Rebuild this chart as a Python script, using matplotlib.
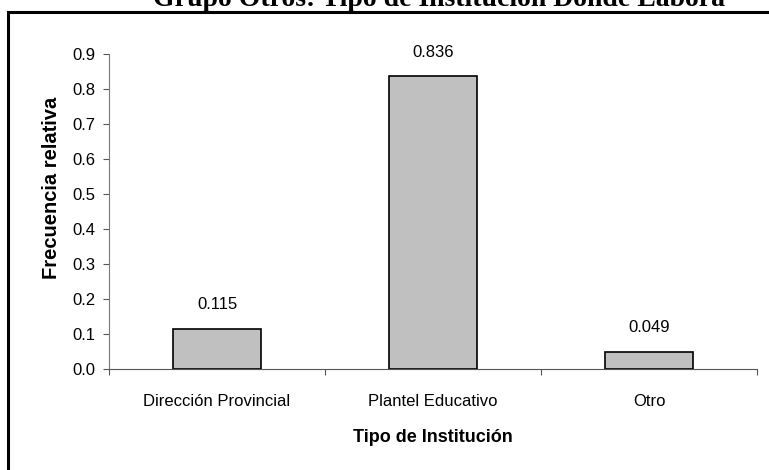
import matplotlib.pyplot as plt
from matplotlib.patches import Rectangle

categories = ["Dirección Provincial", "Plantel Educativo", "Otro"]
freq = [0.115, 0.836, 0.049]
value_labels = ["0.115", "0.836", "0.049"]
yticks = [0.0, 0.1, 0.2, 0.3, 0.4, 0.5, 0.6, 0.7, 0.8, 0.9]

plt.rcParams['font.family'] = ['Liberation Sans', 'DejaVu Sans']

W, H = 769, 470
fig = plt.figure(figsize=(W / 100, H / 100), dpi=100)
ax = fig.add_axes([109 / W, 1 - 369 / H, 648 / W, 315 / H])

x = list(range(len(categories)))
ax.bar(x, freq, width=0.41, color='#C0C0C0', edgecolor='black', linewidth=1.2)

for xi, v, lab in zip(x, freq, value_labels):
    ax.annotate(lab, (xi, v), xytext=(0, 12), textcoords='offset points',
                ha='center', va='bottom', fontsize=12)

ax.set_xlim(-0.5, 2.5)
ax.set_ylim(0, 0.9)
ax.set_yticks(yticks)
ax.set_yticklabels([f"{t:.1f}" for t in yticks], fontsize=12)

# tick marks between categories, labels centred under the bars
ax.set_xticks([-0.5, 0.5, 1.5, 2.5])
ax.set_xticklabels([])
ax.set_xticks(x, minor=True)
ax.set_xticklabels(categories, minor=True, fontsize=12)
ax.tick_params(axis='x', which='major', length=4.5, direction='out', color='#555555')
ax.tick_params(axis='x', which='minor', length=0, pad=18)
ax.tick_params(axis='y', length=4.5, direction='out', color='#555555', pad=5)

for s in ['top', 'right']:
    ax.spines[s].set_visible(False)
ax.spines['left'].set_color('#777777')
ax.spines['bottom'].set_color('#555555')

ax.set_xlabel("Tipo de Institución", fontsize=13, fontweight='bold', va='center')
ax.xaxis.set_label_coords(0.5, (369 - 437) / 315)
ax.set_ylabel("Frecuencia relativa", fontsize=14.5, fontweight='bold', va='center')
ax.yaxis.set_label_coords((52 - 109) / 648, (369 - 188) / 315)

fig.text(439 / W, 1 - 6 / H, "Grupo Otros: Tipo de Institución Donde Labora",
         ha='center', va='baseline', fontsize=20, fontweight='bold',
         family=['Liberation Serif', 'DejaVu Serif'])

# outer chart frame, partly cut off at the right and bottom
fig.add_artist(Rectangle((8 / W, -0.1), 1.2, 1.1 - 12 / H, transform=fig.transFigure,
                         fill=False, edgecolor='black', linewidth=2.2))

fig.savefig("out.png", dpi=100)
